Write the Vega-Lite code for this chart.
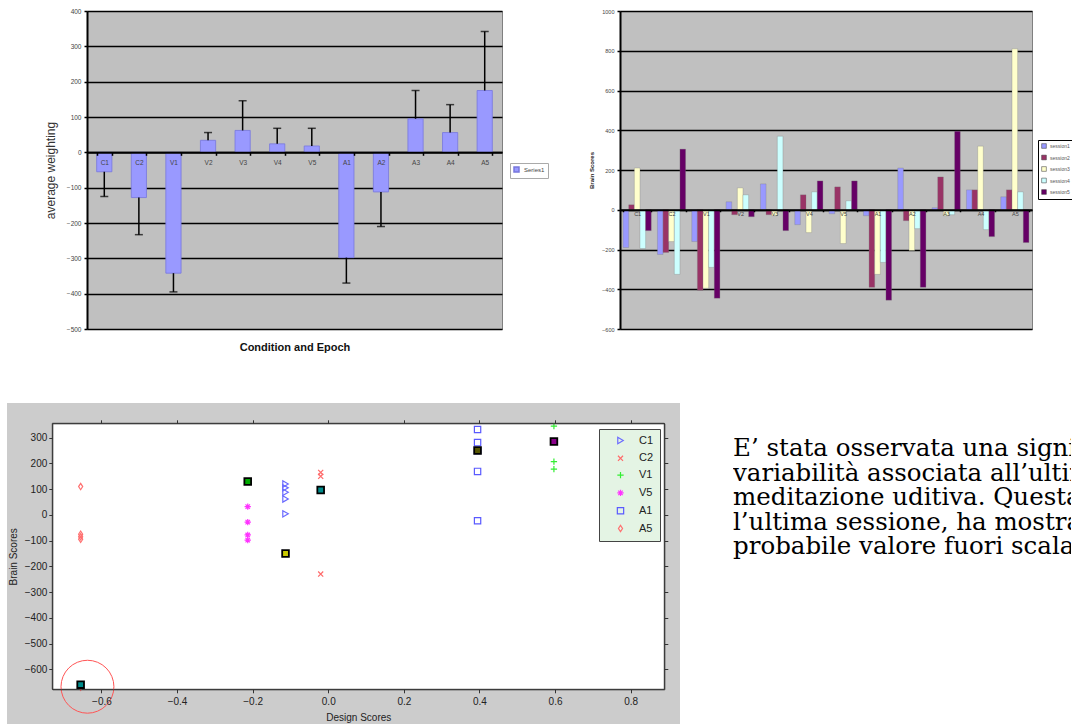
{
  "$schema": "https://vega.github.io/schema/vega-lite/v6.json",
  "background": "white",
  "padding": {"left": 7, "top": 7, "right": 0, "bottom": 0},
  "spacing": 50,
  "resolve": {
    "scale": {"color": "independent", "shape": "independent", "fill": "independent"},
    "legend": {"color": "independent", "shape": "independent", "fill": "independent"}
  },
  "config": {
    "view": {"stroke": null},
    "axis": {"labelFont": "Liberation Sans", "titleFont": "Liberation Sans"},
    "legend": {"labelFont": "Liberation Sans", "titleFont": "Liberation Sans"}
  },
  "vconcat": [
    {
      "spacing": 40,
      "bounds": "flush",
      "resolve": {
        "scale": {"color": "independent", "shape": "independent", "fill": "independent"},
        "legend": {"color": "independent", "shape": "independent", "fill": "independent"}
      },
      "hconcat": [
        {
          "width": 40, "height": 318,
          "data": {"values": []},
          "mark": {"type": "point", "opacity": 0}
        },
        {
          "width": 415, "height": 318,
          "view": {"fill": "#c0c0c0", "stroke": "#808080", "strokeWidth": 1},
          "data": {"values": [
            {"cat": "C1", "val": -55, "err": -125, "series": "Series1"},
            {"cat": "C2", "val": -128, "err": -233, "series": "Series1"},
            {"cat": "V1", "val": -342, "err": -395, "series": "Series1"},
            {"cat": "V2", "val": 34, "err": 56, "series": "Series1"},
            {"cat": "V3", "val": 62, "err": 146, "series": "Series1"},
            {"cat": "V4", "val": 24, "err": 68, "series": "Series1"},
            {"cat": "V5", "val": 18, "err": 68, "series": "Series1"},
            {"cat": "A1", "val": -298, "err": -370, "series": "Series1"},
            {"cat": "A2", "val": -112, "err": -210, "series": "Series1"},
            {"cat": "A3", "val": 95, "err": 175, "series": "Series1"},
            {"cat": "A4", "val": 56, "err": 135, "series": "Series1"},
            {"cat": "A5", "val": 175, "err": 342, "series": "Series1"}
          ]},
          "encoding": {
            "x": {
              "field": "cat", "type": "nominal", "sort": null,
              "scale": {"paddingInner": 0.56, "paddingOuter": 0.28},
              "axis": {
                "orient": "bottom", "offset": -176.7, "zindex": 1,
                "title": "Condition and Epoch", "titleFontSize": 11, "titleFontWeight": "bold", "titleColor": "#111",
                "titleY": 194.7, "titleBaseline": "middle",
                "labelFontSize": 6.5, "labelColor": "#444", "labelPadding": 4, "labelAngle": 0,
                "domainColor": "black", "domainWidth": 2,
                "tickColor": "black", "tickWidth": 1.5, "tickSize": 3, "tickBand": "extent", "grid": false
              }
            }
          },
          "layer": [
            {
              "mark": {"type": "bar", "stroke": "#7777dd", "strokeWidth": 0.8},
              "encoding": {
                "y": {
                  "field": "val", "type": "quantitative",
                  "scale": {"domain": [-500, 400], "nice": false},
                  "axis": {
                    "values": [-500, -400, -300, -200, -100, 0, 100, 200, 300, 400],
                    "orient": "left", "grid": true, "gridColor": "black", "gridWidth": 1.5,
                    "domainColor": "black", "domainWidth": 2,
                    "tickColor": "black", "tickSize": 3, "tickWidth": 1.5,
                    "labelFontSize": 6.5, "labelColor": "#444", "labelPadding": 3, "labelOverlap": false,
                    "title": "average weighting", "titleFontSize": 12, "titleFontWeight": "normal", "titleColor": "#333",
                    "titleX": -37, "titleBaseline": "middle"
                  }
                },
                "color": {
                  "field": "series", "type": "nominal",
                  "scale": {"range": ["#9999ff"]},
                  "legend": {
                    "orient": "none", "legendX": 423, "legendY": 152, "title": null,
                    "labelFontSize": 6, "labelColor": "#444", "symbolType": "square", "symbolSize": 25,
                    "fillColor": "white", "strokeColor": "#aaaaaa", "padding": 3
                  }
                }
              }
            },
            {
              "mark": {"type": "rule", "strokeWidth": 1.5, "color": "black"},
              "encoding": {
                "y": {
                  "field": "val", "type": "quantitative",
                  "scale": {"domain": [-500, 400], "nice": false},
                  "axis": {
                    "values": [-500, -400, -300, -200, -100, 0, 100, 200, 300, 400],
                    "orient": "left", "grid": true, "gridColor": "black", "gridWidth": 1.5,
                    "domainColor": "black", "domainWidth": 2,
                    "tickColor": "black", "tickSize": 3, "tickWidth": 1.5,
                    "labelFontSize": 6.5, "labelColor": "#444", "labelPadding": 3, "labelOverlap": false,
                    "title": "average weighting", "titleFontSize": 12, "titleFontWeight": "normal", "titleColor": "#333",
                    "titleX": -37, "titleBaseline": "middle"
                  }
                },
                "y2": {"field": "err"}
              }
            },
            {
              "mark": {"type": "tick", "color": "black", "thickness": 1.5, "size": 8},
              "encoding": {
                "y": {
                  "field": "err", "type": "quantitative",
                  "scale": {"domain": [-500, 400], "nice": false},
                  "axis": {
                    "values": [-500, -400, -300, -200, -100, 0, 100, 200, 300, 400],
                    "orient": "left", "grid": true, "gridColor": "black", "gridWidth": 1.5,
                    "domainColor": "black", "domainWidth": 2,
                    "tickColor": "black", "tickSize": 3, "tickWidth": 1.5,
                    "labelFontSize": 6.5, "labelColor": "#444", "labelPadding": 3, "labelOverlap": false,
                    "title": "average weighting", "titleFontSize": 12, "titleFontWeight": "normal", "titleColor": "#333",
                    "titleX": -37, "titleBaseline": "middle"
                  }
                }
              }
            }
          ]
        },
        {
          "width": 38, "height": 318,
          "data": {"values": []},
          "mark": {"type": "point", "opacity": 0}
        },
        {
          "width": 412, "height": 318,
          "view": {"fill": "#c0c0c0", "stroke": "#808080", "strokeWidth": 1},
          "data": {"values": [
            {"cat": "C1", "session": "session1", "val": -190}, {"cat": "C1", "session": "session2", "val": 25}, {"cat": "C1", "session": "session3", "val": 210}, {"cat": "C1", "session": "session4", "val": -195}, {"cat": "C1", "session": "session5", "val": -105},
            {"cat": "C2", "session": "session1", "val": -225}, {"cat": "C2", "session": "session2", "val": -215}, {"cat": "C2", "session": "session3", "val": -160}, {"cat": "C2", "session": "session4", "val": -325}, {"cat": "C2", "session": "session5", "val": 305},
            {"cat": "V1", "session": "session1", "val": -160}, {"cat": "V1", "session": "session2", "val": -405}, {"cat": "V1", "session": "session3", "val": -395}, {"cat": "V1", "session": "session4", "val": -290}, {"cat": "V1", "session": "session5", "val": -445},
            {"cat": "V2", "session": "session1", "val": 40}, {"cat": "V2", "session": "session2", "val": -25}, {"cat": "V2", "session": "session3", "val": 110}, {"cat": "V2", "session": "session4", "val": 75}, {"cat": "V2", "session": "session5", "val": -35},
            {"cat": "V3", "session": "session1", "val": 130}, {"cat": "V3", "session": "session2", "val": -25}, {"cat": "V3", "session": "session3", "val": -30}, {"cat": "V3", "session": "session4", "val": 370}, {"cat": "V3", "session": "session5", "val": -105},
            {"cat": "V4", "session": "session1", "val": -75}, {"cat": "V4", "session": "session2", "val": 75}, {"cat": "V4", "session": "session3", "val": -115}, {"cat": "V4", "session": "session4", "val": 90}, {"cat": "V4", "session": "session5", "val": 145},
            {"cat": "V5", "session": "session1", "val": -20}, {"cat": "V5", "session": "session2", "val": 115}, {"cat": "V5", "session": "session3", "val": -170}, {"cat": "V5", "session": "session4", "val": 45}, {"cat": "V5", "session": "session5", "val": 145},
            {"cat": "A1", "session": "session1", "val": -30}, {"cat": "A1", "session": "session2", "val": -390}, {"cat": "A1", "session": "session3", "val": -325}, {"cat": "A1", "session": "session4", "val": -265}, {"cat": "A1", "session": "session5", "val": -455},
            {"cat": "A2", "session": "session1", "val": 210}, {"cat": "A2", "session": "session2", "val": -55}, {"cat": "A2", "session": "session3", "val": -205}, {"cat": "A2", "session": "session4", "val": -95}, {"cat": "A2", "session": "session5", "val": -390},
            {"cat": "A3", "session": "session1", "val": 10}, {"cat": "A3", "session": "session2", "val": 165}, {"cat": "A3", "session": "session3", "val": -30}, {"cat": "A3", "session": "session4", "val": -25}, {"cat": "A3", "session": "session5", "val": 395},
            {"cat": "A4", "session": "session1", "val": 100}, {"cat": "A4", "session": "session2", "val": 100}, {"cat": "A4", "session": "session3", "val": 320}, {"cat": "A4", "session": "session4", "val": -100}, {"cat": "A4", "session": "session5", "val": -135},
            {"cat": "A5", "session": "session1", "val": 65}, {"cat": "A5", "session": "session2", "val": 100}, {"cat": "A5", "session": "session3", "val": 810}, {"cat": "A5", "session": "session4", "val": 90}, {"cat": "A5", "session": "session5", "val": -165}
          ]},
          "mark": {"type": "bar", "stroke": "#777777", "strokeWidth": 0.3},
          "encoding": {
            "x": {
              "field": "cat", "type": "nominal", "sort": null,
              "scale": {"paddingInner": 0.18, "paddingOuter": 0.09},
              "axis": {
                "orient": "bottom", "offset": -119.25, "zindex": 1, "title": null,
                "labelFontSize": 5.5, "labelColor": "#444", "labelPadding": 0, "labelAngle": 0,
                "domainColor": "black", "domainWidth": 2,
                "tickColor": "black", "tickWidth": 1.5, "tickSize": 2, "tickBand": "extent", "grid": false
              }
            },
            "xOffset": {"field": "session", "type": "nominal", "scale": {"paddingInner": 0, "paddingOuter": 0}},
            "y": {
              "field": "val", "type": "quantitative",
              "scale": {"domain": [-600, 1000], "nice": false},
              "axis": {
                "values": [-600, -400, -200, 0, 200, 400, 600, 800, 1000],
                "format": "d",
                "orient": "left", "grid": true, "gridColor": "black", "gridWidth": 1.5,
                "domainColor": "black", "domainWidth": 2,
                "tickColor": "black", "tickSize": 3, "tickWidth": 1.5,
                "labelFontSize": 5.5, "labelColor": "#444", "labelPadding": 3, "labelOverlap": false,
                "title": "Brain Scores", "titleFontSize": 6, "titleFontWeight": "bold", "titleColor": "#222",
                "titleX": -29, "titleBaseline": "middle"
              }
            },
            "color": {
              "field": "session", "type": "nominal",
              "scale": {
                "domain": ["session1", "session2", "session3", "session4", "session5"],
                "range": ["#9999ff", "#993366", "#ffffcc", "#ccffff", "#660066"]
              },
              "legend": {
                "orient": "none", "legendX": 418, "legendY": 129, "title": null,
                "labelFontSize": 5, "labelColor": "#555", "symbolType": "square", "symbolSize": 22,
                "symbolStrokeColor": "#333333", "symbolStrokeWidth": 0.5,
                "rowPadding": 3.5, "labelOffset": 3, "padding": 3,
                "fillColor": "white", "strokeColor": "black"
              }
            }
          }
        }
      ]
    },
    {
      "spacing": 53,
      "bounds": "flush",
      "resolve": {
        "scale": {"color": "independent", "shape": "independent", "fill": "independent"},
        "legend": {"color": "independent", "shape": "independent", "fill": "independent"}
      },
      "hconcat": [
        {
          "width": 673, "height": 321,
          "view": {"fill": "#cccccc", "stroke": null},
          "resolve": {"axis": {"x": "independent", "y": "independent"}},
          "layer": [
            {
              "data": {"values": [{"part": "plot area"}]},
              "mark": {"type": "rect", "fill": "white", "stroke": "#333333", "strokeWidth": 1},
              "encoding": {
                "x": {
                  "datum": -0.73, "type": "quantitative",
                  "scale": {"domain": [-0.73, 0.889], "range": [45.3, 657.3], "nice": false, "zero": false},
                  "axis": {
                    "orient": "bottom", "offset": -34.7, "zindex": 1,
                    "values": [-0.6, -0.4, -0.2, 0, 0.2, 0.4, 0.6, 0.8],
                    "title": "Design Scores", "titleFontSize": 10, "titleFontWeight": "normal", "titleColor": "#222",
                    "titleY": 27.7, "titleBaseline": "middle",
                    "labelFontSize": 10, "labelColor": "#222", "labelPadding": 4, "labelOverlap": false, "labelFlush": false,
                    "tickSize": 3.5, "tickColor": "#333333", "domainColor": "#333333", "grid": false
                  }
                },
                "x2": {"datum": 0.889},
                "y": {
                  "datum": -678, "type": "quantitative",
                  "scale": {"domain": [-678, 356], "range": [286.3, 20.3], "nice": false, "zero": false},
                  "axis": {
                    "orient": "left", "offset": -45.3, "zindex": 1,
                    "values": [-600, -500, -400, -300, -200, -100, 0, 100, 200, 300],
                    "title": "Brain Scores", "titleFontSize": 10, "titleFontWeight": "normal", "titleColor": "#222",
                    "titleX": -39.3, "titleBaseline": "middle",
                    "labelFontSize": 10, "labelColor": "#222", "labelPadding": 2, "labelOverlap": false, "labelFlush": false,
                    "tickSize": 3.5, "tickColor": "#333333", "domainColor": "#333333", "grid": false
                  }
                },
                "y2": {"datum": 356}
              }
            },
            {
              "data": {"values": [
                {"x": -0.113, "y": 120, "cls": "C1"}, {"x": -0.113, "y": 105, "cls": "C1"}, {"x": -0.113, "y": 88, "cls": "C1"}, {"x": -0.113, "y": 62, "cls": "C1"}, {"x": -0.113, "y": 4, "cls": "C1"}, {"x": -0.113, "y": -150, "cls": "C1"},
                {"x": -0.02, "y": 165, "cls": "C2"}, {"x": -0.02, "y": 150, "cls": "C2"}, {"x": -0.02, "y": 100, "cls": "C2"}, {"x": -0.02, "y": -230, "cls": "C2"},
                {"x": 0.597, "y": 345, "cls": "V1"}, {"x": 0.597, "y": 207, "cls": "V1"}, {"x": 0.597, "y": 178, "cls": "V1"}, {"x": 0.597, "y": 285, "cls": "V1"},
                {"x": -0.213, "y": 32, "cls": "V5"}, {"x": -0.213, "y": -28, "cls": "V5"}, {"x": -0.213, "y": -78, "cls": "V5"}, {"x": -0.213, "y": -98, "cls": "V5"}, {"x": -0.213, "y": 130, "cls": "V5"},
                {"x": 0.395, "y": 332, "cls": "A1"}, {"x": 0.395, "y": 281, "cls": "A1"}, {"x": 0.395, "y": 169, "cls": "A1"}, {"x": 0.395, "y": -23, "cls": "A1"}, {"x": 0.395, "y": 250, "cls": "A1"},
                {"x": -0.655, "y": 110, "cls": "A5"}, {"x": -0.655, "y": -75, "cls": "A5"}, {"x": -0.655, "y": -85, "cls": "A5"}, {"x": -0.655, "y": -95, "cls": "A5"}, {"x": -0.655, "y": -670, "cls": "A5"}
              ]},
              "mark": {"type": "point", "filled": false, "strokeWidth": 1.2, "size": 40, "opacity": 1},
              "encoding": {
                "x": {"field": "x", "type": "quantitative", "scale": {"domain": [-0.73, 0.889], "range": [45.3, 657.3], "nice": false, "zero": false}, "axis": null},
                "y": {"field": "y", "type": "quantitative", "scale": {"domain": [-678, 356], "range": [286.3, 20.3], "nice": false, "zero": false}, "axis": null},
                "color": {
                  "field": "cls", "type": "nominal",
                  "scale": {"domain": ["C1", "C2", "V1", "V5", "A1", "A5"], "range": ["#6a6aff", "#ff6a6a", "#33ee33", "#ff33ff", "#5a5aff", "#ff7070"]},
                  "legend": {
                    "orient": "none", "legendX": 592, "legendY": 26, "title": null,
                    "fillColor": "#e4f4e4", "strokeColor": "#444444", "padding": 6,
                    "labelFontSize": 11, "labelColor": "#222", "symbolSize": 40, "symbolStrokeWidth": 1.2,
                    "rowPadding": 4.8, "labelOffset": 13, "symbolOffset": 10
                  }
                },
                "shape": {
                  "field": "cls", "type": "nominal",
                  "scale": {"domain": ["C1", "C2", "V1", "V5", "A1", "A5"], "range": ["triangle-right", "M-0.8,-0.8L0.8,0.8M-0.8,0.8L0.8,-0.8", "M-1,0L1,0M0,-1L0,1", "M-1,0L1,0M0,-1L0,1M-0.7,-0.7L0.7,0.7M-0.7,0.7L0.7,-0.7", "square", "M0,-1L0.65,0L0,1L-0.65,0Z"]},
                  "legend": {
                    "orient": "none", "legendX": 592, "legendY": 26, "title": null,
                    "fillColor": "#e4f4e4", "strokeColor": "#444444", "padding": 6,
                    "labelFontSize": 11, "labelColor": "#222", "symbolSize": 40, "symbolStrokeWidth": 1.2,
                    "rowPadding": 4.8, "labelOffset": 13, "symbolOffset": 10
                  }
                }
              }
            },
            {
              "data": {"values": [
                {"x": -0.213, "y": 130, "kind": "mV5"},
                {"x": -0.02, "y": 97, "kind": "mC2"},
                {"x": -0.113, "y": -150, "kind": "mC1"},
                {"x": 0.395, "y": 250, "kind": "mA1"},
                {"x": 0.597, "y": 285, "kind": "mV1"},
                {"x": -0.655, "y": -660, "kind": "mA5"}
              ]},
              "mark": {"type": "square", "size": 45, "stroke": "black", "strokeWidth": 1.8, "opacity": 1},
              "encoding": {
                "x": {"field": "x", "type": "quantitative", "scale": {"domain": [-0.73, 0.889], "range": [45.3, 657.3], "nice": false, "zero": false}, "axis": null},
                "y": {"field": "y", "type": "quantitative", "scale": {"domain": [-678, 356], "range": [286.3, 20.3], "nice": false, "zero": false}, "axis": null},
                "fill": {
                  "field": "kind", "type": "nominal",
                  "scale": {"domain": ["mV5", "mC2", "mC1", "mA1", "mV1", "mA5"], "range": ["#00aa00", "#008b8b", "#c8c800", "#555500", "#8b008b", "#008b8b"]},
                  "legend": null
                }
              }
            },
            {
              "data": {"values": [{"x": -0.637, "y": -668, "note": "outlier"}]},
              "mark": {"type": "point", "shape": "circle", "filled": false, "size": 2800, "color": "#ff5555", "strokeWidth": 1, "opacity": 1},
              "encoding": {
                "x": {
                  "field": "x", "type": "quantitative",
                  "scale": {"domain": [-0.73, 0.889], "range": [45.3, 657.3], "nice": false, "zero": false},
                  "axis": {
                    "orient": "top", "offset": -20.3, "zindex": 1,
                    "values": [-0.6, -0.4, -0.2, 0, 0.2, 0.4, 0.6, 0.8],
                    "labels": false, "title": null, "tickSize": 3.5, "tickColor": "#333333", "domainColor": "#333333", "grid": false
                  }
                },
                "y": {
                  "field": "y", "type": "quantitative",
                  "scale": {"domain": [-678, 356], "range": [286.3, 20.3], "nice": false, "zero": false},
                  "axis": {
                    "orient": "right", "offset": -15.7, "zindex": 1,
                    "values": [-600, -500, -400, -300, -200, -100, 0, 100, 200, 300],
                    "labels": false, "title": null, "tickSize": 3.5, "tickColor": "#333333", "domainColor": "#333333", "grid": false
                  }
                }
              }
            }
          ]
        },
        {
          "width": 338, "height": 196.8,
          "data": {"values": [
            {"line": 1, "text": "E’ stata osservata una significativa"},
            {"line": 2, "text": "variabilità associata all’ultima sessione"},
            {"line": 3, "text": "meditazione uditiva. Questa"},
            {"line": 4, "text": "l’ultima sessione, ha mostrato"},
            {"line": 5, "text": "probabile valore fuori scala."}
          ]},
          "mark": {"type": "text", "align": "left", "baseline": "alphabetic", "font": "DejaVu Serif", "fontSize": 24.5, "color": "black", "clip": true},
          "encoding": {
            "x": {"datum": 0, "type": "quantitative", "scale": {"domain": [0, 1], "nice": false, "zero": false}, "axis": null},
            "y": {"field": "line", "type": "quantitative", "scale": {"domain": [-1.154, 6.846], "reverse": true, "nice": false, "zero": false}, "axis": null},
            "text": {"field": "text"}
          }
        }
      ]
    }
  ]
}
